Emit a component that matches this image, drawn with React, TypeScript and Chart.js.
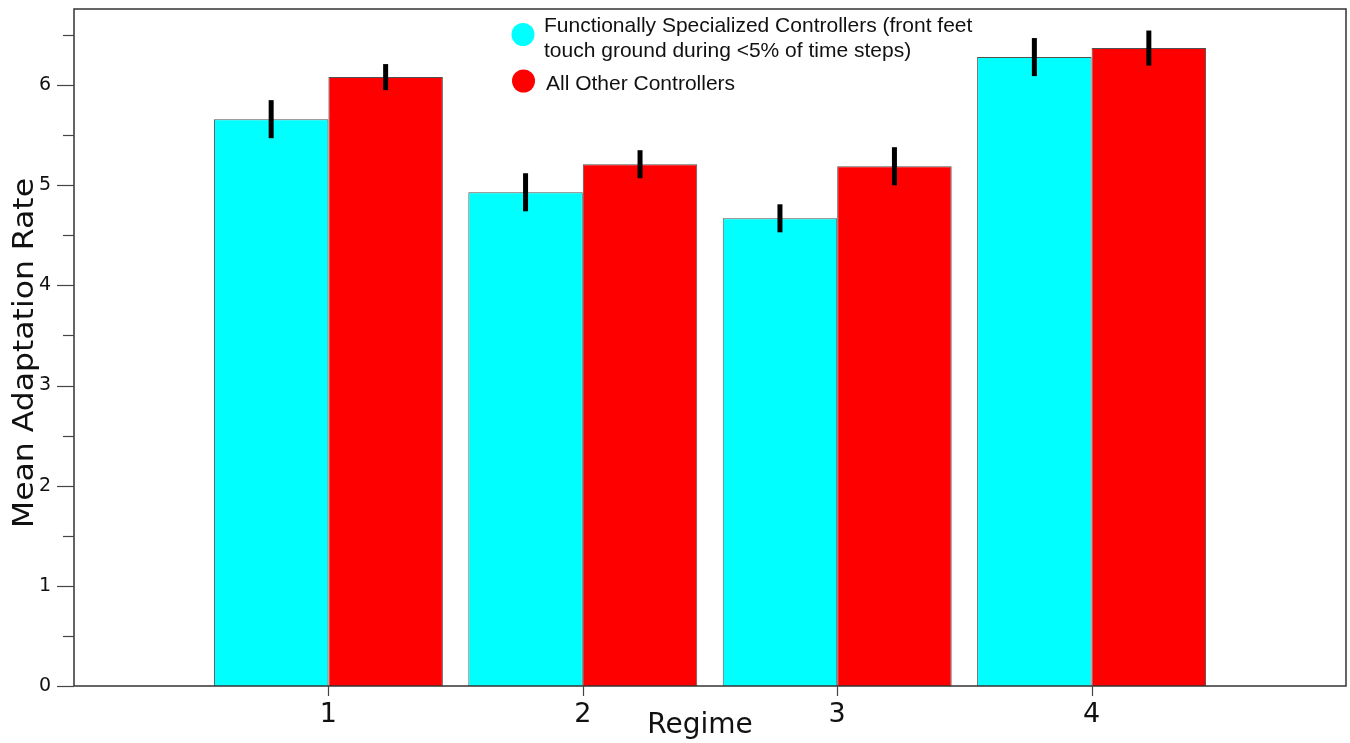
import React, { useEffect, useRef } from 'react';
import { Chart, registerables } from 'chart.js';

Chart.register(...registerables);

// ---- Data ----
const regimes = ['1', '2', '3', '4'];
const specializedMeans = [5.66, 4.93, 4.67, 6.28];
const specializedErrors = [0.19, 0.19, 0.14, 0.19];
const otherMeans = [6.08, 5.21, 5.19, 6.37];
const otherErrors = [0.13, 0.14, 0.19, 0.175];
const legendSpecialized = [
  'Functionally Specialized Controllers (front feet',
  'touch ground during <5% of time steps)',
];
const legendOther = ['All Other Controllers'];
const yTitle = 'Mean Adaptation Rate';
const xTitle = 'Regime';
const yMax = 6.76;

const CYAN = '#00FFFF';
const RED = '#FF0000';

const labels = ['', ...regimes, ''];
const pad = (arr: number[]) => [null, ...arr, null];
const errorsByDataset = [pad(specializedErrors), pad(otherErrors)];

const customPlugin = {
  id: 'custom',
  afterDatasetsDraw(chart: any) {
    const ctx = chart.ctx;
    const y = chart.scales.y;
    ctx.save();
    ctx.strokeStyle = '#000';
    ctx.lineWidth = 5;
    chart.data.datasets.forEach((ds: any, di: number) => {
      const meta = chart.getDatasetMeta(di);
      meta.data.forEach((el: any, i: number) => {
        const v = ds.data[i];
        const e = errorsByDataset[di][i];
        if (v == null || e == null) return;
        ctx.beginPath();
        ctx.moveTo(el.x, y.getPixelForValue(v + e));
        ctx.lineTo(el.x, y.getPixelForValue(v - e));
        ctx.stroke();
      });
    });
    ctx.restore();
  },
  afterDraw(chart: any) {
    const ctx = chart.ctx;
    const { left, right, top, bottom } = chart.chartArea;
    const xs = chart.scales.x;
    const ys = chart.scales.y;
    ctx.save();
    // frame
    ctx.strokeStyle = '#333';
    ctx.lineWidth = 1.5;
    ctx.strokeRect(left, top, right - left, bottom - top);
    // y tick marks
    ctx.strokeStyle = '#444';
    ctx.lineWidth = 1.2;
    for (let k = 0; k <= 13; k++) {
      const v = k * 0.5;
      const py = Math.round(ys.getPixelForValue(v)) + 0.5;
      const len = k % 2 === 0 ? 17 : 11;
      ctx.beginPath();
      ctx.moveTo(left - len, py);
      ctx.lineTo(left, py);
      ctx.stroke();
    }
    // x tick marks
    for (let i = 1; i <= regimes.length; i++) {
      const px = Math.round(xs.getPixelForValue(i)) + 0.5;
      ctx.beginPath();
      ctx.moveTo(px, bottom);
      ctx.lineTo(px, bottom + 10);
      ctx.stroke();
    }
    // y title
    ctx.fillStyle = '#111';
    ctx.font = '28px "DejaVu Sans"';
    ctx.textAlign = 'center';
    ctx.textBaseline = 'alphabetic';
    ctx.save();
    ctx.translate(33, 353);
    ctx.rotate(-Math.PI / 2);
    const w = ctx.measureText(yTitle).width;
    ctx.scale(350 / w, 1);
    ctx.fillText(yTitle, 0, 0);
    ctx.restore();
    // x title
    ctx.fillText(xTitle, 700, 733);
    // legend
    ctx.beginPath();
    ctx.fillStyle = CYAN;
    ctx.arc(523, 34.5, 11.5, 0, Math.PI * 2);
    ctx.fill();
    ctx.beginPath();
    ctx.fillStyle = RED;
    ctx.arc(523.5, 81, 11.5, 0, Math.PI * 2);
    ctx.fill();
    ctx.fillStyle = '#111';
    ctx.font = '21px "Liberation Sans"';
    ctx.textAlign = 'left';
    ctx.fillText(legendSpecialized[0], 544, 32);
    ctx.fillText(legendSpecialized[1], 544, 57);
    ctx.fillText(legendOther[0], 546, 90);
    ctx.restore();
  },
};

export default function App() {
  const ref = useRef<HTMLCanvasElement | null>(null);
  useEffect(() => {
    document.body.style.margin = '0';
    const canvas = ref.current;
    if (!canvas) return;
    const chart = new Chart(canvas, {
      type: 'bar',
      data: {
        labels,
        datasets: [
          {
            label: legendSpecialized.join(' '),
            data: pad(specializedMeans),
            backgroundColor: CYAN,
            borderColor: 'rgba(50,50,50,0.85)',
            borderWidth: 1,
            categoryPercentage: 0.9,
            barPercentage: 1.0,
          },
          {
            label: legendOther[0],
            data: pad(otherMeans),
            backgroundColor: RED,
            borderColor: 'rgba(50,50,50,0.85)',
            borderWidth: 1,
            categoryPercentage: 0.9,
            barPercentage: 1.0,
          },
        ],
      },
      options: {
        animation: false,
        responsive: true,
        maintainAspectRatio: false,
        layout: { autoPadding: false, padding: { top: 9, right: 4, left: 0, bottom: 0 } },
        plugins: {
          legend: { display: false },
          tooltip: { enabled: false },
        },
        scales: {
          x: {
            type: 'category',
            offset: false,
            grid: { display: false, drawTicks: false },
            border: { display: false },
            ticks: {
              autoSkip: false,
              maxRotation: 0,
              padding: 13,
              color: '#111',
              font: { family: '"DejaVu Sans"', size: 27 },
              callback: (_v: any, i: number) => labels[i],
            },
            afterFit: (s: any) => {
              s.height = 57;
              s.paddingLeft = 0;
              s.paddingRight = 0;
            },
          },
          y: {
            min: 0,
            max: yMax,
            grid: { display: false, drawTicks: false },
            border: { display: false },
            ticks: {
              stepSize: 0.5,
              padding: 23,
              color: '#111',
              font: { family: '"DejaVu Sans"', size: 19 },
              callback: (v: any) => (Number.isInteger(v) ? String(v) : ''),
            },
            afterFit: (s: any) => {
              s.width = 74;
              s.paddingTop = 0;
              s.paddingBottom = 0;
            },
          },
        },
      },
      plugins: [customPlugin],
    });
    return () => chart.destroy();
  }, []);
  return (
    <div style={{ width: 1350, height: 743, position: 'relative', background: '#fff' }}>
      <canvas ref={ref} />
    </div>
  );
}
